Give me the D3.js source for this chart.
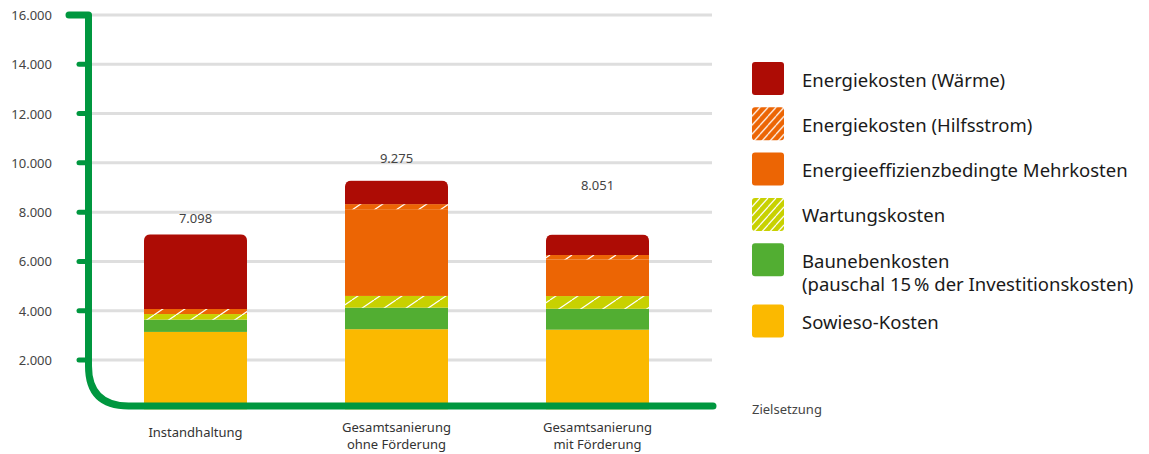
<!DOCTYPE html>
<html>
<head>
<meta charset="utf-8">
<script src="https://cdn.jsdelivr.net/npm/d3@7"></script>
<style>
  body { margin: 0; background: #fff; }
  svg { font-family: "Noto Sans", sans-serif; }
</style>
</head>
<body>
<div id="chart"></div>
<script>
const width = 1149;
const height = 454;

// ******** DATA ********
var categories = ['Instandhaltung', 'Gesamtsanierung ohne Förderung', 'Gesamtsanierung mit Förderung'];
var categoryLines = [['Instandhaltung'], ['Gesamtsanierung', 'ohne Förderung'], ['Gesamtsanierung', 'mit Förderung']];
var totals = [7098, 9275, 8051];
var totalLabels = ['7.098', '9.275', '8.051'];

// stack order bottom -> top
var seriesKeys = ['sowieso', 'baunebenkosten', 'wartung', 'effizienz', 'hilfsstrom', 'waerme'];
var sowieso = [3140, 3250, 3230];
var baunebenkosten = [500, 875, 850];
var wartung = [225, 475, 515];
var effizienz = [0, 3520, 1490];
var hilfsstrom = [205, 205, 175];
var waerme = [3030, 955, 830];

var yTicks = [2000, 4000, 6000, 8000, 10000, 12000, 14000, 16000];
var yTickLabels = ['2.000', '4.000', '6.000', '8.000', '10.000', '12.000', '14.000', '16.000'];

// legend, top -> bottom
var legendKeys = ['waerme', 'hilfsstrom', 'effizienz', 'wartung', 'baunebenkosten', 'sowieso'];
var legendLabels = [
  ['Energiekosten (Wärme)'],
  ['Energiekosten (Hilfsstrom)'],
  ['Energieeffizienzbedingte Mehrkosten'],
  ['Wartungskosten'],
  ['Baunebenkosten', '(pauschal 15\u2009% der Investitionskosten)'],
  ['Sowieso-Kosten']
];

const colors = {
  waerme: '#ad0c05',
  hilfsstrom: '#ec6504',
  effizienz: '#ec6504',
  wartung: '#c8d100',
  baunebenkosten: '#52ae32',
  sowieso: '#fbb900'
};
const hatched = {hilfsstrom: true, wartung: true};
const axisGreen = '#00973f';

var values = {sowieso, baunebenkosten, wartung, effizienz, hilfsstrom, waerme};
var table = categories.map(function(c, i){
  var row = {cat: c};
  seriesKeys.forEach(function(k){ row[k] = values[k][i]; });
  return row;
});
var stacked = d3.stack().keys(seriesKeys)(table);

// ********* Create SVG *********
var svg = d3.select('#chart').append('svg')
  .attr('width', width)
  .attr('height', height);

var defs = svg.append('defs');

// hatch patterns: bars (sparse) and legend (dense)
function makePattern(id, key, w, h){
  var p = defs.append('pattern')
    .attr('id', id)
    .attr('patternUnits', 'userSpaceOnUse')
    .attr('width', w)
    .attr('height', h);
  p.append('rect').attr('width', w).attr('height', h).attr('fill', colors[key]);
  p.append('path')
    .attr('d', `M0,${h} L${w},0 M${-w},${h} L0,0 M${w},${h} L${2*w},0`)
    .attr('stroke', '#fff')
    .attr('stroke-width', 1.2);
}
makePattern('bar-hilfsstrom', 'hilfsstrom', 22, 15);
makePattern('bar-wartung', 'wartung', 22, 15);
makePattern('leg-hilfsstrom', 'hilfsstrom', 8, 9);
makePattern('leg-wartung', 'wartung', 8, 9);

function fillFor(key, prefix){
  return hatched[key] ? `url(#${prefix}-${key})` : colors[key];
}

// ******** SCALES *********
var x = d3.scaleBand()
  .domain(categories)
  .range([93.75, 699.25])
  .paddingInner(0.4876)
  .paddingOuter(0.25);

var y = d3.scaleLinear()
  .domain([0, 16000])
  .range([409.3, 15]);

// ******** GRID *********
svg.append('g').selectAll('line')
  .data(yTicks)
  .enter().append('line')
  .attr('x1', 88)
  .attr('x2', 712)
  .attr('y1', function(d){ return y(d); })
  .attr('y2', function(d){ return y(d); })
  .attr('stroke', '#dedede')
  .attr('stroke-width', 3);

// ******** BARS *********
categories.forEach(function(c, i){
  var top = y(d3.sum(seriesKeys, function(k){ return values[k][i]; }));
  defs.append('clipPath').attr('id', 'clip' + i)
    .append('rect')
    .attr('x', x(c))
    .attr('y', top)
    .attr('width', x.bandwidth())
    .attr('height', 430 - top)
    .attr('rx', 6);
});

var layers = svg.append('g').selectAll('g')
  .data(stacked)
  .enter().append('g');

layers.selectAll('rect')
  .data(function(d){ return d.map(function(v){ return {key: d.key, v: v}; }); })
  .enter().append('rect')
  .attr('clip-path', function(d, i){ return `url(#clip${i})`; })
  .attr('x', function(d){ return x(d.v.data.cat); })
  .attr('y', function(d){ return y(d.v[1]); })
  .attr('width', x.bandwidth())
  .attr('height', function(d){ return Math.max(0, y(d.v[0]) - y(d.v[1])); })
  .attr('fill', function(d){ return fillFor(d.key, 'bar'); });

// total labels
var labelOffset = [16, 23, 26];
svg.append('g').selectAll('text')
  .data(categories)
  .enter().append('text')
  .attr('x', function(d){ return x(d) + x.bandwidth()/2; })
  .attr('y', function(d, i){ return y(totals[i]) - labelOffset[i]; })
  .attr('text-anchor', 'middle')
  .attr('dominant-baseline', 'central')
  .style('font-size', '13px')
  .style('fill', '#444')
  .text(function(d, i){ return totalLabels[i]; });

// ******** AXIS (green bracket) *********
var x0 = 88.5, yb = 406, r = 40;
svg.append('path')
  .attr('d', `M69,${y(16000)} L${x0},${y(16000)} L${x0},${yb - r} Q${x0},${yb} ${x0 + r},${yb} L713,${yb}`)
  .attr('fill', 'none')
  .attr('stroke', axisGreen)
  .attr('stroke-width', 7)
  .attr('stroke-linecap', 'round')
  .attr('stroke-linejoin', 'round');

svg.append('g').selectAll('line')
  .data(yTicks.slice(0, -1))
  .enter().append('line')
  .attr('x1', 79)
  .attr('x2', x0)
  .attr('y1', function(d){ return y(d); })
  .attr('y2', function(d){ return y(d); })
  .attr('stroke', axisGreen)
  .attr('stroke-width', 5)
  .attr('stroke-linecap', 'round');

svg.append('g').selectAll('text')
  .data(yTicks)
  .enter().append('text')
  .attr('x', 52)
  .attr('y', function(d){ return y(d); })
  .attr('text-anchor', 'end')
  .attr('dominant-baseline', 'central')
  .style('font-size', '13px')
  .style('fill', '#444')
  .text(function(d, i){ return yTickLabels[i]; });

// category labels
var catLabels = svg.append('g').selectAll('text')
  .data(categories)
  .enter().append('text')
  .attr('x', function(d){ return x(d) + x.bandwidth()/2; })
  .attr('y', function(d, i){ return categoryLines[i].length > 1 ? 427 : 432; })
  .attr('text-anchor', 'middle')
  .style('font-size', '13px')
  .style('fill', '#333');
catLabels.selectAll('tspan')
  .data(function(d, i){ return categoryLines[i]; })
  .enter().append('tspan')
  .attr('x', function(){ var p = d3.select(this.parentNode).datum(); return x(p) + x.bandwidth()/2; })
  .attr('dy', function(d, i){ return i === 0 ? '0.35em' : '17px'; })
  .text(function(d){ return d; });

svg.append('text')
  .attr('x', 752)
  .attr('y', 409)
  .attr('dominant-baseline', 'central')
  .style('font-size', '13px')
  .style('fill', '#444')
  .text('Zielsetzung');

// ******** LEGEND *********
var legend = svg.append('g').attr('transform', 'translate(752, 0)');
var entry = legend.selectAll('g')
  .data(legendKeys)
  .enter().append('g')
  .attr('transform', function(d, i){
    return `translate(0, ${62 + i*45.3 + (i >= 5 ? 16 : 0)})`;
  });
entry.append('rect')
  .attr('width', 32)
  .attr('height', 33)
  .attr('rx', 3)
  .attr('fill', function(d){ return fillFor(d, 'leg'); });
entry.append('text')
  .attr('x', 50)
  .attr('y', 16.5)
  .attr('dominant-baseline', 'central')
  .style('font-size', '18.5px')
  .style('fill', '#1a1a1a')
  .selectAll('tspan')
  .data(function(d, i){ return legendLabels[i]; })
  .enter().append('tspan')
  .attr('x', 50)
  .attr('dy', function(d, i){ return i === 0 ? 0 : 23; })
  .text(function(d){ return d; });
</script>
</body>
</html>
